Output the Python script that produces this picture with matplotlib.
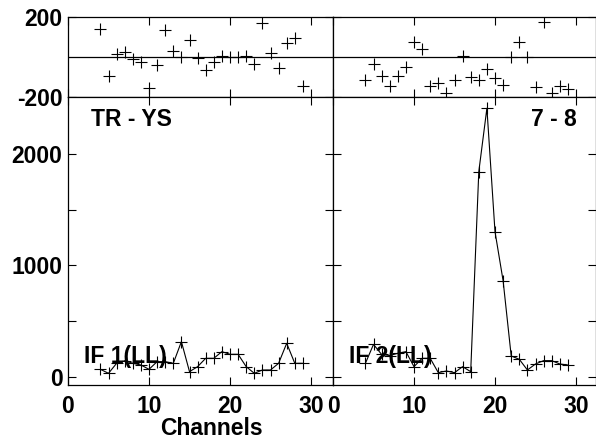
import matplotlib
matplotlib.use("Agg")
import matplotlib.pyplot as plt

plt.rcParams["font.family"] = ["Liberation Sans", "DejaVu Sans"]
plt.rcParams["font.weight"] = "bold"

# channel numbers shared by both baselines
channels = list(range(4, 30))

# baseline TR - YS, IF 1(LL)
left_phase = [140, -95, 15, 27, -12, -27, -153, -40, 135, 30, 2, 85, -7,
              -65, -27, 5, 2, -2, 5, -37, 172, 18, -57, 72, 97, -143]
left_amp = [66, 30, 120, 144, 120, 105, 66, 135, 135, 120, 315, 45, 90,
            165, 165, 225, 201, 201, 90, 30, 60, 60, 120, 300, 120, 120]

# baseline 7 - 8, IF 2(LL)
right_phase = [-115, -37, -93, -143, -95, -48, 73, 38, -143, -128, -182, -115, 5,
               -98, -115, -62, -103, -140, -2, 73, -2, -148, 173, -182, -145, -162]
right_amp = [120, 290, 200, 190, 210, 225, 90, 165, 165, 36, 51, 36, 90,
             45, 1844, 2414, 1304, 863, 186, 156, 60, 114, 144, 144, 114, 105]

baselines = ["TR - YS", "7 - 8"]
if_labels = ["IF 1(LL)", "IF 2(LL)"]
x_ticks = [0, 10, 20, 30]
phase_ticks = [-200, 200]
amp_ticks = [0, 500, 1000, 1500, 2000]
amp_labels = ["0", "", "1000", "", "2000"]

W, H = 596, 441
fig = plt.figure(figsize=(W / 100, H / 100), dpi=100)

FS = 16.5
cols = [(68, 265), (333, 263)]
phases = [left_phase, right_phase]
amps = [left_amp, right_amp]

for i, (x0, w) in enumerate(cols):
    axp = fig.add_axes([x0 / W, 1 - 97 / H, w / W, 80 / H])
    axa = fig.add_axes([x0 / W, 1 - 385 / H, w / W, 288 / H])
    xmax = w / 8.1

    for ax in (axp, axa):
        ax.set_xlim(0, xmax)
        ax.set_xticks(x_ticks)
        ax.tick_params(direction="in", top=True, right=True, length=6,
                       width=0.8, labelsize=FS)
        for s in ax.spines.values():
            s.set_linewidth(0.9)

    # phase panel
    axp.axhline(0, color="black", lw=0.9)
    axp.plot(channels, phases[i], ls="none", marker="+", ms=9, mew=0.8,
             color="black")
    axp.set_ylim(-200, 200)
    axp.set_yticks(phase_ticks)
    axp.set_xticklabels([])
    if i == 0:
        axp.set_yticklabels([str(t) for t in phase_ticks], fontweight="bold")
        axp.tick_params(axis="y", pad=4)
    else:
        axp.set_yticklabels([])

    # amplitude panel
    axa.plot(channels, amps[i], color="black", lw=0.8, marker="+", ms=9,
             mew=0.8, zorder=3)
    axa.set_ylim(-75, 2515)
    axa.set_yticks(amp_ticks)
    axa.set_xticklabels([str(t) for t in x_ticks], fontweight="bold")
    axa.tick_params(axis="x", pad=7)
    if i == 0:
        axa.set_yticklabels(amp_labels, fontweight="bold")
        axa.tick_params(axis="y", pad=4)
        axa.text(0.088, 0.9, baselines[0], transform=axa.transAxes,
                 fontsize=FS, fontweight="bold", va="baseline", ha="left")
    else:
        axa.set_yticklabels([])
        axa.text(0.928, 0.9, baselines[1], transform=axa.transAxes,
                 fontsize=FS, fontweight="bold", va="baseline", ha="right")
    axa.text(0.06, 0.077, if_labels[i], transform=axa.transAxes,
             fontsize=FS, fontweight="bold", va="baseline", ha="left", zorder=2)

fig.text(211 / W, 1 - 435 / H, "Channels", fontsize=FS, fontweight="bold",
         ha="center", va="baseline")

fig.savefig("out.png", dpi=100)
